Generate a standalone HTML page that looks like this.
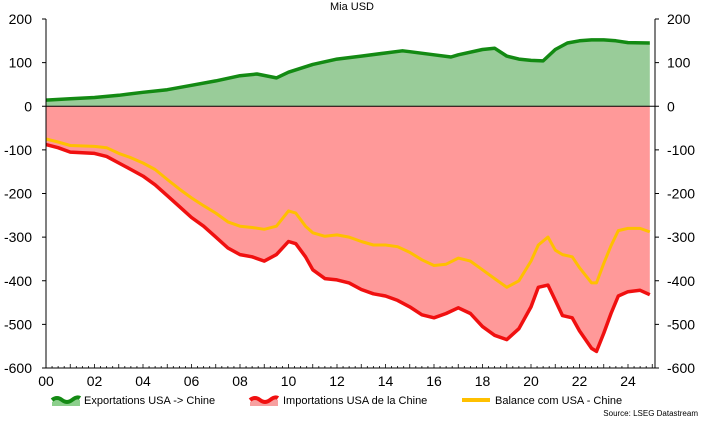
<!DOCTYPE html>
<html><head><meta charset="utf-8"><style>
body{margin:0;background:#fff;font-family:"Liberation Sans",sans-serif}
</style></head><body>
<svg id="c" width="703" height="423" xmlns="http://www.w3.org/2000/svg" style="font-family:'Liberation Sans',sans-serif">
<text x="352" y="10" text-anchor="middle" font-size="11">Mia USD</text>
<g id="plot"></g>
<g font-size="11">
<g><path d="M52 402 q5 -4 10 0 t10 0 t8 -2 v6 h-28z" fill="#8ccf8c"/><path d="M52 400 q5 -4 10 0 t10 0 t8 -2" stroke="#138a13" stroke-width="4" fill="none"/><text x="84" y="404">Exportations USA -&gt; Chine</text></g>
<g><path d="M250 402 q5 -4 10 0 t10 0 t8 -2 v6 h-28z" fill="#f7a0a0"/><path d="M250 400 q5 -4 10 0 t10 0 t8 -2" stroke="#f01010" stroke-width="4" fill="none"/><text x="283" y="404">Importations USA de la Chine</text></g>
<g><line x1="462" y1="400" x2="490" y2="400" stroke="#ffc000" stroke-width="4"/><text x="495" y="404">Balance com USA - Chine</text></g>
</g>
<text x="698" y="416" text-anchor="end" font-size="8">Source: LSEG Datastream</text>
</svg>
<script>
const expDates=[2000,2001,2002,2003,2004,2005,2006,2007,2008,2008.7,2009.5,2010,2011,2012,2013,2014,2014.7,2015,2016,2016.7,2017,2018,2018.5,2019,2019.5,2020,2020.5,2021,2021.5,2022,2022.5,2023,2023.5,2024,2024.9];
const expVals=[14,17,20,25,32,38,48,58,70,74,65,78,96,108,115,122,127,125,118,113,118,130,133,115,108,105,104,130,145,150,152,152,150,146,145];
const impDates=[2000,2000.5,2001,2002,2002.5,2003,2003.5,2004,2004.5,2005,2005.5,2006,2006.5,2007,2007.5,2008,2008.5,2009,2009.5,2010,2010.3,2010.7,2011,2011.5,2012,2012.5,2013,2013.5,2014,2014.5,2015,2015.5,2016,2016.5,2017,2017.5,2018,2018.5,2019,2019.5,2020,2020.3,2020.7,2021,2021.3,2021.7,2022,2022.5,2022.7,2023,2023.3,2023.6,2024,2024.5,2024.9];
const impVals=[-88,-95,-105,-108,-115,-130,-145,-160,-180,-205,-230,-255,-275,-300,-325,-340,-345,-355,-340,-310,-315,-345,-375,-395,-398,-405,-420,-430,-435,-445,-460,-478,-485,-475,-462,-475,-505,-525,-535,-510,-460,-415,-410,-445,-480,-485,-515,-555,-562,-520,-475,-435,-425,-422,-432];
const balVals=[-75,-82,-90,-92,-95,-108,-118,-130,-145,-168,-190,-210,-228,-245,-265,-275,-278,-282,-275,-240,-245,-275,-290,-298,-295,-300,-310,-318,-318,-322,-335,-352,-365,-362,-348,-355,-375,-395,-415,-400,-355,-318,-300,-330,-340,-345,-370,-405,-405,-360,-320,-285,-280,-280,-288];
const yTicks=[200,100,0,-100,-200,-300,-400,-500,-600];
const xTicks=["00","02","04","06","08","10","12","14","16","18","20","22","24"];
const L=46,R=655,T=19,B=368;
const x=d=>L+(d-2000)*(628-46)/24;
const y=v=>T+(200-v)*(B-T)/800;
const NS="http://www.w3.org/2000/svg",g=document.getElementById('plot');
function mk(t,a){const e=document.createElementNS(NS,t);for(const k in a)e.setAttribute(k,a[k]);g.appendChild(e);return e;}
const line=(ds,vs)=>ds.map((d,i)=>(i?'L':'M')+x(d).toFixed(1)+' '+y(vs[i]).toFixed(1)).join(' ');
const area=(ds,vs)=>line(ds,vs)+` L${x(ds[ds.length-1])} ${y(0)} L${x(ds[0])} ${y(0)} Z`;
let e=mk('path',{d:area(expDates,expVals),fill:'#99cc99'});

e=mk('path',{d:area(impDates,impVals),fill:'#ff9999'});

e=mk('line',{x1:L,x2:R,y1:y(0),y2:y(0),stroke:'#000','stroke-width':1});

e=mk('path',{d:line(expDates,expVals),fill:'none',stroke:'#138a13','stroke-width':3.5,'stroke-linejoin':'round'});

e=mk('path',{d:line(impDates,impVals),fill:'none',stroke:'#f01010','stroke-width':3.5,'stroke-linejoin':'round'});

e=mk('path',{d:line(impDates,balVals),fill:'none',stroke:'#ffc000','stroke-width':3,'stroke-linejoin':'round'});

e=mk('path',{d:`M${L} ${T} V${B} H${R} V${T}`,fill:'none',stroke:'#000','stroke-width':1});

yTicks.forEach(v=>{
 e=mk('line',{x1:L-4,x2:L,y1:y(v),y2:y(v),stroke:'#000'});
 
 e=mk('line',{x1:R,x2:R+4,y1:y(v),y2:y(v),stroke:'#000'});
 
 e=mk('text',{x:L-14,y:y(v)+5,'text-anchor':'end','font-size':14});e.textContent=v;
 
 e=mk('text',{x:R+12,y:y(v)+5,'text-anchor':'start','font-size':14});e.textContent=v;
 
});
for(let q=0;q<=100;q++){const xx=L+q*(628-46)/96;if(xx>R)break;
 e=mk('line',{x1:xx,x2:xx,y1:B,y2:B-(q%4?2:4),stroke:'#000','stroke-width':0.8});
 }
xTicks.forEach((t,i)=>{
 e=mk('text',{x:x(2000+2*i),y:386,'text-anchor':'middle','font-size':14});e.textContent=t;
 
});
</script>
</body></html>
